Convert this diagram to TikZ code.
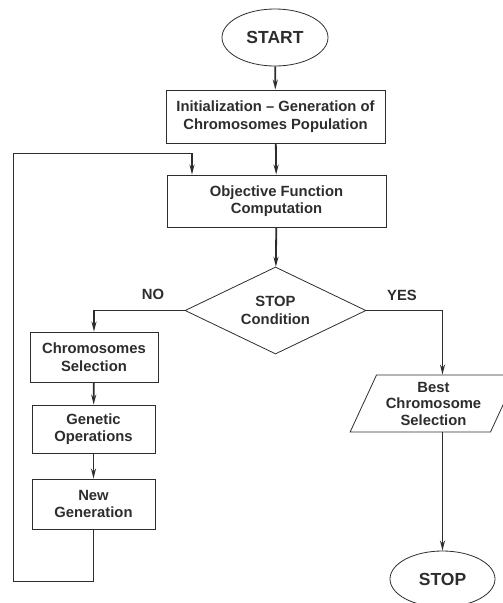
\documentclass[tikz,border=0pt]{standalone}
\usepackage{fontspec}
\setmainfont{Liberation Sans}
\usetikzlibrary{shapes.geometric,arrows.meta}
\definecolor{ink}{RGB}{45,45,45}
\tikzset{
  stepbox/.style={draw=ink,thick,rectangle,inner sep=0pt,align=center},
  term/.style={draw=ink,thick,ellipse,inner sep=0pt,font=\fontsize{17.5}{20}\selectfont\bfseries},
  flow/.style={draw=ink,line width=1.8pt,-{Stealth[length=10pt,width=5pt]}},
  link/.style={draw=ink,line width=1pt}
}
\begin{document}
\begin{tikzpicture}[x=1pt,y=-1pt,text=ink,font=\fontsize{14.8}{17.5}\selectfont\bfseries]
  \useasboundingbox (0,0) rectangle (503,603);
  \node[term,minimum width=106pt,minimum height=57pt] (start) at (275,37.5) {START};
  \node[stepbox,minimum width=219pt,minimum height=53pt] (init) at (275.5,116.5) {Initialization -- Generation of\\Chromosomes Population};
  \node[stepbox,minimum width=219pt,minimum height=52pt] (obj) at (276.5,201) {Objective Function\\Computation};
  \node[draw=ink,thick,diamond,aspect=2,inner sep=0pt,align=center,minimum width=181pt,minimum height=87pt] (cond) at (275.5,310.5) {STOP\\Condition};
  \node (no) at (153,294) {NO};
  \node (yes) at (402,295) {YES};
  \node[stepbox,minimum width=128pt,minimum height=50pt] (sel) at (94,357) {Chromosomes\\Selection};
  \node[stepbox,minimum width=123pt,minimum height=48pt] (gen) at (93.5,429) {Genetic\\Operations};
  \node[stepbox,minimum width=123pt,minimum height=50pt] (newg) at (93.5,504) {New\\Generation};
  \node[draw=ink,thick,trapezium,trapezium left angle=63,trapezium right angle=117,trapezium stretches=true,inner sep=0pt,align=center,minimum width=167pt,minimum height=57pt,font=\fontsize{14.8}{16.5}\selectfont\bfseries] (best) at (433.5,403.5) {Best\\Chromosome\\Selection};
  \node[term,minimum width=105pt,minimum height=56pt] (stop) at (442.5,579) {STOP};
  % main line
  \draw[flow] (start) -- (init);
  \draw[flow] (init) -- (obj);
  \draw[flow] (obj) -- (cond);
  \draw[flow] (cond.west) -| (sel.north);
  \draw[flow] (sel) -- (gen);
  \draw[flow] (gen) -- (newg);
  \draw[flow] (cond.east) -| (best.north -| stop.north);
  \draw[flow] (best.south -| stop.north) -- (stop.north);
  % back to the objective function
  \coordinate (lpA) at (13,581);
  \coordinate (lpB) at (13,153);
  \coordinate (lpC) at (192,153);
  \draw[link] (newg.south) |- (lpA) -- (lpB) -- (lpC);
  \draw[flow] (lpC) -- (obj.north -| lpC);
\end{tikzpicture}
\end{document}
